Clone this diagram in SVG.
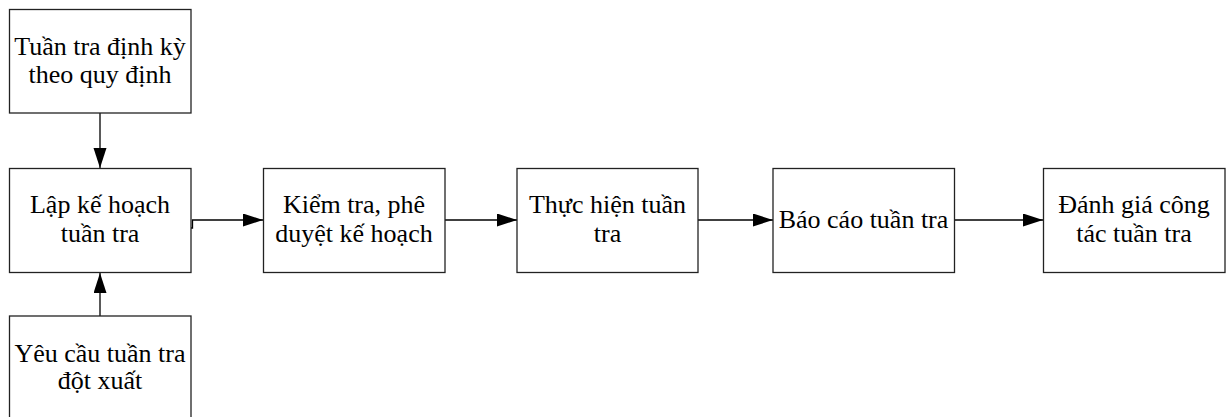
<svg xmlns="http://www.w3.org/2000/svg" width="1227" height="417" viewBox="0 0 1227 417">
<style>
.box{fill:#fff;stroke:#222;stroke-width:1.3}
.t{font-family:"Liberation Serif","Times New Roman",serif;font-size:26px;fill:#000;text-anchor:middle}
.c{fill:none;stroke:#000;stroke-width:1.3}
</style>
<defs>
<marker id="ah" markerUnits="userSpaceOnUse" markerWidth="22" markerHeight="14" refX="20" refY="6.5" orient="auto">
<path d="M0,0 L20,6.5 L0,13 Z" fill="#000"/>
</marker>
</defs>
<rect width="1227" height="417" fill="#fff"/>
<g id="connectors">
<path class="c" d="M100,113 V168" marker-end="url(#ah)"/>
<path class="c" d="M100,316 V273" marker-end="url(#ah)"/>
<path class="c" d="M191,228 H192.5 V220 H263" marker-end="url(#ah)"/>
<path class="c" d="M445,220 H517" marker-end="url(#ah)"/>
<path class="c" d="M698,220 H773" marker-end="url(#ah)"/>
<path class="c" d="M954,220 H1043" marker-end="url(#ah)"/>
</g>
<g id="n1"><rect class="box" x="9.5" y="9.5" width="181.5" height="103.5"/>
<text class="t" x="100" y="55">Tuần tra định kỳ</text><text class="t" x="100" y="83">theo quy định</text></g>
<g id="n2"><rect class="box" x="9.5" y="168.5" width="181.5" height="104"/>
<text class="t" x="100" y="213">Lập kế hoạch</text><text class="t" x="100" y="242">tuần tra</text></g>
<g id="n3"><rect class="box" x="9.5" y="316" width="181.5" height="104"/>
<text class="t" x="100" y="362">Yêu cầu tuần tra</text><text class="t" x="100" y="389">đột xuất</text></g>
<g id="n4"><rect class="box" x="263.5" y="168.5" width="181.5" height="104"/>
<text class="t" x="354" y="213">Kiểm tra, phê</text><text class="t" x="354" y="242">duyệt kế hoạch</text></g>
<g id="n5"><rect class="box" x="517" y="168.5" width="181" height="104"/>
<text class="t" x="607.5" y="213">Thực hiện tuần</text><text class="t" x="607.5" y="242">tra</text></g>
<g id="n6"><rect class="box" x="773" y="168.5" width="181.5" height="104"/>
<text class="t" x="863.5" y="228">Báo cáo tuần tra</text></g>
<g id="n7"><rect class="box" x="1043.5" y="168.5" width="181.5" height="104"/>
<text class="t" x="1134" y="213">Đánh giá công</text><text class="t" x="1134" y="242">tác tuần tra</text></g>
</svg>
